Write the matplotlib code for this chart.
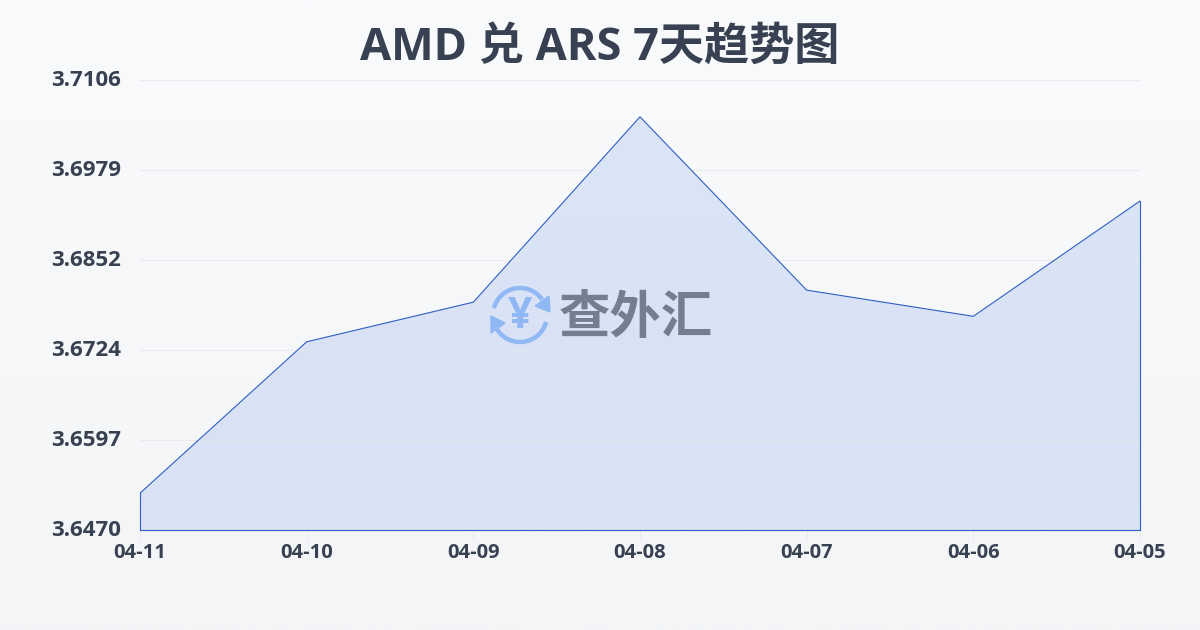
import numpy as np
import matplotlib
matplotlib.use('Agg')
import matplotlib.pyplot as plt
from matplotlib.patches import Arc, Polygon
from matplotlib.transforms import ScaledTranslation

plt.rcParams['font.family'] = ['Open Sans', 'Noto Sans CJK SC', 'DejaVu Sans']

title = 'AMD 兑 ARS 7天趋势图'
dates = ['04-11', '04-10', '04-09', '04-08', '04-07', '04-06', '04-05']
rates = [3.6522, 3.6736, 3.6792, 3.7054, 3.6809, 3.6772, 3.6935]
y_ticks = [3.6470, 3.6597, 3.6724, 3.6852, 3.6979, 3.7106]
watermark = '查外汇'

text_color = '#374151'
line_color = '#2f5fc4'
grid_color = '#e5e7eb'

fig = plt.figure(figsize=(12, 6.3), dpi=100)

# page background, light vertical gradient
bg = fig.add_axes([0, 0, 1, 1], zorder=0)
bg.imshow(np.linspace(0, 1, 256).reshape(-1, 1), aspect='auto', cmap=matplotlib.colors.LinearSegmentedColormap.from_list('page', ['#f9fafc', '#f3f5f7']))
bg.axis('off')

# plot area is x 140-1140, y 80-530 in pixels
ax = fig.add_axes([140 / 1200, 1 - 530 / 630, 1000 / 1200, 450 / 630], zorder=1)
ax.patch.set_alpha(0)
x = np.arange(len(dates))

# fill with a slight top to bottom colour shift, clipped to the area under the line
poly = ax.fill_between(x, rates, y_ticks[0], color='none', linewidth=0)
shade = matplotlib.colors.LinearSegmentedColormap.from_list('fill', ['#dae5f7', '#d9e1f4'])
im = ax.imshow(np.linspace(0, 1, 256).reshape(-1, 1), aspect='auto', cmap=shade, zorder=1,
               extent=[x[0], x[-1], y_ticks[0], rates[3]])
im.set_clip_path(poly.get_paths()[0], transform=ax.transData)

ax.plot(x, rates, color=line_color, linewidth=0.8, zorder=3)
ax.plot([x[0], x[0]], [y_ticks[0], rates[0]], color=line_color, linewidth=0.8, zorder=3, clip_on=False)
ax.plot([x[-1], x[-1]], [y_ticks[0], rates[-1]], color=line_color, linewidth=0.8, zorder=3, clip_on=False)
ax.plot([x[0], x[-1]], [y_ticks[0], y_ticks[0]], color=line_color, linewidth=0.8, zorder=3, clip_on=False)

ax.set_xlim(x[0], x[-1])
ax.set_ylim(y_ticks[0], y_ticks[-1])
ax.set_xticks(x, dates)
ax.set_yticks(y_ticks, [f'{v:.4f}' for v in y_ticks])
ax.set_axisbelow(False)
ax.grid(axis='y', color=grid_color, linewidth=0.8, zorder=2.5, alpha=0.8)
for s in ax.spines.values():
    s.set_visible(False)
ax.tick_params(axis='y', length=0, pad=13.5, labelsize=16, labelcolor=text_color)
ax.tick_params(axis='x', length=7, width=0.6, color=grid_color, pad=2, labelsize=14.5, labelcolor=text_color)
for lab in ax.get_xticklabels() + ax.get_yticklabels():
    lab.set_fontweight('bold')
# y labels sit slightly above their gridlines
up = ScaledTranslation(0, 1.5 / 72, fig.dpi_scale_trans)
for lab in ax.get_yticklabels():
    lab.set_transform(lab.get_transform() + up)

fig.text(600 / 1200, 1 - 48 / 630, title, ha='center', va='center', fontsize=32.5, fontweight='bold', color=text_color)

# watermark logo and name, drawn in pixel coordinates
ov = fig.add_axes([0, 0, 1, 1], zorder=2)
ov.set_xlim(0, 1200)
ov.set_ylim(630, 0)
ov.axis('off')
logo = '#8fb8f5'
ov.add_patch(Arc((520, 315), 54, 54, theta1=195, theta2=325, color=logo, linewidth=3.2))
ov.add_patch(Arc((520, 315), 54, 54, theta1=15, theta2=150, color=logo, linewidth=3.2))
ov.add_patch(Polygon([[549, 296], [550, 312], [535, 306]], color=logo))
ov.add_patch(Polygon([[491, 316], [505, 323], [491, 333]], color=logo))
ov.text(520, 316, '¥', ha='center', va='center', fontsize=31, fontweight='bold', color=logo)
ov.text(636, 320, watermark, ha='center', va='center', fontsize=37, fontweight='bold', color='#757e90')

fig.savefig('out.png', dpi=100)
